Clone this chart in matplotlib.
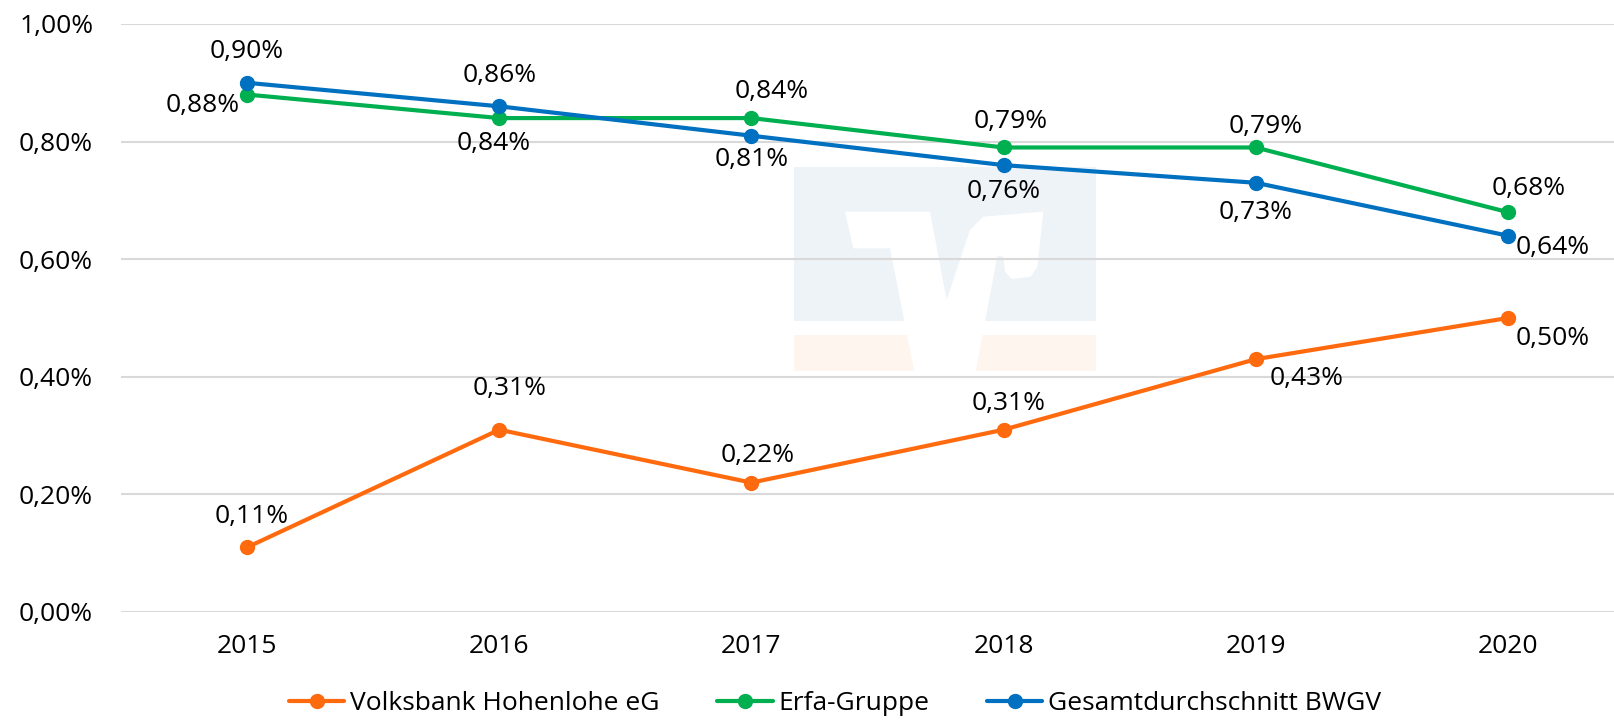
import matplotlib
matplotlib.use('Agg')
import matplotlib.pyplot as plt
from matplotlib.patches import Rectangle, Polygon
from matplotlib.ticker import FuncFormatter

plt.rcParams['font.family'] = ['Open Sans', 'DejaVu Sans']

# Daten
jahre = ['2015', '2016', '2017', '2018', '2019', '2020']
volksbank = [0.11, 0.31, 0.22, 0.31, 0.43, 0.50]
erfa = [0.88, 0.84, 0.84, 0.79, 0.79, 0.68]
bwgv = [0.90, 0.86, 0.81, 0.76, 0.73, 0.64]

# Position der Beschriftungen (Pixel-Versatz)
off_volksbank = [(5, 31), (10, 41), (6, 27), (5, 26), (51, -19), (45, -20)]
off_erfa = [(-44, -11), (-6, -25), (20, 27), (7, 26), (10, 21), (21, 24)]
off_bwgv = [(0, 31), (0, 31), (0, -24), (0, -26), (0, -30), (45, -12)]

W, H = 1615, 723
fig = plt.figure(figsize=(W / 100, H / 100), dpi=100)
ax = fig.add_axes([121 / W, 1 - 612 / H, (1634 - 121) / W, (612 - 24) / H])
ax.patch.set_alpha(0)

# Wasserzeichen (Logo) im Hintergrund
def px(x, y):
    return (x / W, 1 - y / H)

def z(X, Y):
    return px(790 + X / 3, 160 + Y / 3)

x0, y0 = px(794, 321)
x1, y1 = px(1096, 167)
fig.add_artist(Rectangle((x0, y0), x1 - x0, y1 - y0, transform=fig.transFigure,
                         facecolor='#EEF3F8', edgecolor='none', zorder=-2))
x0, y0 = px(794, 371)
x1, y1 = px(1096, 335)
fig.add_artist(Rectangle((x0, y0), x1 - x0, y1 - y0, transform=fig.transFigure,
                         facecolor='#FDF5EE', edgecolor='none', zorder=-2))
v_form = [(165, 155), (420, 155), (470, 420), (540, 210), (580, 170), (760, 155),
          (742, 320), (722, 350), (665, 357), (645, 335), (640, 290), (622, 288),
          (555, 645), (375, 645), (300, 265), (190, 265)]
fig.add_artist(Polygon([z(a, b) for a, b in v_form], closed=True, transform=fig.transFigure,
                       facecolor='white', edgecolor='none', zorder=-1))

x = list(range(len(jahre)))
reihen = [
    ('Volksbank Hohenlohe eG', volksbank, '#FF6A0E', off_volksbank),
    ('Erfa-Gruppe', erfa, '#00B050', off_erfa),
    ('Gesamtdurchschnitt BWGV', bwgv, '#0070C0', off_bwgv),
]
for name, werte, farbe, offs in reihen:
    ax.plot(x, werte, color=farbe, lw=3, marker='o', ms=10, label=name,
            solid_capstyle='round', zorder=3)
    for xi, v, (dx, dy) in zip(x, werte, offs):
        ax.annotate(f'{v:.2f}%'.replace('.', ','), (xi, v), xytext=(dx, dy),
                    textcoords='offset pixels', ha='center', va='center',
                    fontsize=19, color='black', zorder=4)

ax.set_xlim(-0.5, 5.5)
ax.set_ylim(0, 1.0)
ax.set_yticks([0, 0.2, 0.4, 0.6, 0.8, 1.0])
ax.yaxis.set_major_formatter(FuncFormatter(lambda v, p: f'{v:.2f}%'.replace('.', ',')))
ax.set_xticks(x)
ax.set_xticklabels(jahre)
ax.grid(axis='y', color='#D9D9D9', lw=1.5)
ax.set_axisbelow(True)
for s in ax.spines.values():
    s.set_visible(False)
ax.tick_params(axis='both', length=0, labelsize=19)
ax.tick_params(axis='y', pad=20)
ax.tick_params(axis='x', pad=16)

fig.legend(loc='center', bbox_to_anchor=(0.517, 0.027), ncol=3, frameon=False,
           fontsize=19, handlelength=2.1, handletextpad=0.2, columnspacing=2.2)

fig.savefig('out.png', dpi=100)
